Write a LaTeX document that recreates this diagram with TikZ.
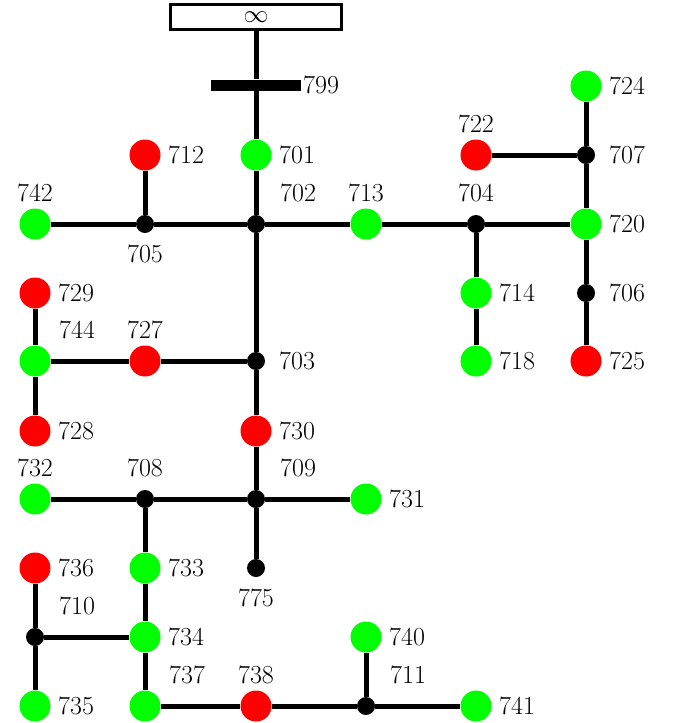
\documentclass[tikz,border=0pt]{standalone}
\begin{document}
\begin{tikzpicture}[x=1pt,y=-1pt,
  gn/.style={circle,fill={rgb,255:red,0;green,255;blue,0},minimum size=31pt,inner sep=0pt},
  rd/.style={circle,fill={rgb,255:red,255;green,0;blue,0},minimum size=31pt,inner sep=0pt},
  bk/.style={circle,fill=black,minimum size=18pt,inner sep=0pt},
  lbl/.style={inner sep=0pt,font=\fontsize{26}{30}\selectfont},
  pR/.style={anchor=west,xshift=23pt},
  pA/.style={yshift=31pt},
  pB/.style={yshift=-30pt},
  pAR/.style={anchor=west,xshift=24pt,yshift=31pt},
  wire/.style={line width=5pt}]
\useasboundingbox (0,0) rectangle (673,723);
\node[draw,line width=2.5pt,minimum width=171pt,minimum height=25pt,inner sep=0pt] (inf) at (256,17) {};
\node[lbl] (linf) at (256,17) {$\infty$};
\node[fill=black,minimum width=90pt,minimum height=11pt,inner sep=0pt] (b799) at (256,85) {};
\node[lbl,anchor=west] (l799) at (303,85) {799};
\foreach \n/\x/\y/\s/\p in {
 701/256/155/gn/pR, 712/145/155/rd/pR, 722/476/155/rd/pA, 707/586/155/bk/pR, 724/586/86/gn/pR,
 742/35/224/gn/pA, 705/145/224/bk/pB, 702/256/224/bk/pAR, 713/366/224/gn/pA, 704/476/224/bk/pA, 720/586/224/gn/pR,
 729/35/293/rd/pR, 714/476/293/gn/pR, 706/586/293/bk/pR,
 744/35/361/gn/pAR, 727/145/361/rd/pA, 703/256/361/bk/pR, 718/476/361/gn/pR, 725/586/361/rd/pR,
 728/35/431/rd/pR, 730/256/431/rd/pR,
 732/35/499/gn/pA, 708/145/499/bk/pA, 709/256/499/bk/pAR, 731/366/499/gn/pR,
 736/35/568/rd/pR, 733/145/568/gn/pR, 775/256/568/bk/pB,
 710/35/637/bk/pAR, 734/145/637/gn/pR, 740/366/637/gn/pR,
 735/35/706/gn/pR, 737/145/706/gn/pAR, 738/256/706/rd/pA, 711/366/706/bk/pAR, 741/476/706/gn/pR}
{
  \node[\s] (n\n) at (\x,\y) {};
  \node[lbl,\p] (l\n) at (\x,\y) {\n};
}
\draw[wire] (inf) -- (b799) -- (n701) -- (n702);
\draw[wire] (n712) -- (n705);
\draw[wire] (n742) -- (n705) -- (n702) -- (n713) -- (n704) -- (n720);
\draw[wire] (n722) -- (n707);
\draw[wire] (n724) -- (n707) -- (n720) -- (n706) -- (n725);
\draw[wire] (n704) -- (n714) -- (n718);
\draw[wire] (n702) -- (n703);
\draw[wire] (n729) -- (n744) -- (n728);
\draw[wire] (n744) -- (n727) -- (n703);
\draw[wire] (n703) -- (n730) -- (n709);
\draw[wire] (n732) -- (n708) -- (n709) -- (n731);
\draw[wire] (n709) -- (n775);
\draw[wire] (n708) -- (n733) -- (n734) -- (n737);
\draw[wire] (n736) -- (n710) -- (n735);
\draw[wire] (n710) -- (n734);
\draw[wire] (n737) -- (n738) -- (n711) -- (n741);
\draw[wire] (n711) -- (n740);
\end{tikzpicture}
\end{document}
